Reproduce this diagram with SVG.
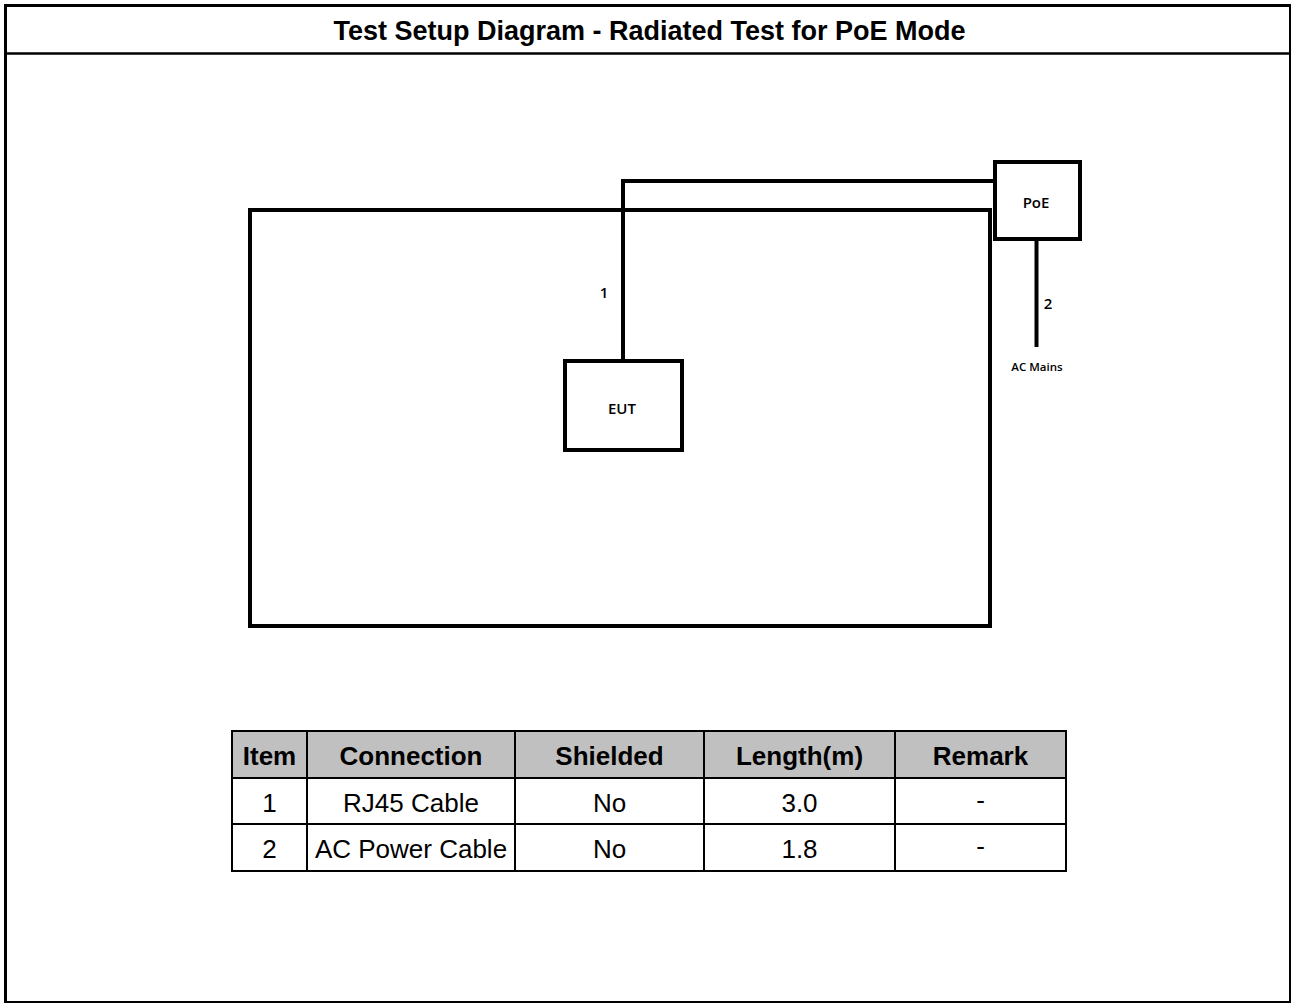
<svg xmlns="http://www.w3.org/2000/svg" width="1292" height="1004" viewBox="0 0 1292 1004">
<style>
.box{fill:#fff;stroke:#000;stroke-width:4}
.wire{fill:none;stroke:#000;stroke-width:4}
.lbl{font-family:"Open Sans","Noto Sans",sans-serif;font-size:15px;font-weight:600;fill:#000;text-anchor:middle}
.small{font-family:"Open Sans","Noto Sans",sans-serif;font-size:11.5px;font-weight:600;fill:#000;text-anchor:middle}
.title{font-family:"Liberation Sans",Arial,sans-serif;font-size:27px;font-weight:bold;text-anchor:middle}
.th{font-family:"Liberation Sans",Arial,sans-serif;font-size:26px;font-weight:bold;text-anchor:middle}
.td{font-family:"Liberation Sans",Arial,sans-serif;font-size:26px;text-anchor:middle}
.grid{stroke:#000;stroke-width:2;fill:none}
</style>
<rect width="1292" height="1004" fill="#fff"/>
<g id="frame">
<line x1="5.5" y1="4" x2="5.5" y2="1003" stroke="#000" stroke-width="3"/>
<line x1="4" y1="5.5" x2="1291" y2="5.5" stroke="#000" stroke-width="3"/>
<line x1="1290" y1="4" x2="1290" y2="1003" stroke="#000" stroke-width="2"/>
<line x1="4" y1="1002" x2="1291" y2="1002" stroke="#000" stroke-width="2"/>
<line x1="4" y1="53.5" x2="1291" y2="53.5" stroke="#000" stroke-width="2.5"/>
<text class="title" x="649.5" y="40">Test Setup Diagram - Radiated Test for PoE Mode</text>
</g>
<g id="table-area">
<rect x="250" y="210" width="740" height="416" fill="none" stroke="#000" stroke-width="4"/>
</g>
<g id="connectors">
<polyline class="wire" points="623,360 623,181 995,181"/>
<line class="wire" x1="1036.5" y1="238" x2="1036.5" y2="347"/>
<text class="lbl" x="604" y="298">1</text>
<text class="lbl" x="1048" y="309">2</text>
</g>
<g id="eut">
<rect class="box" x="565" y="361" width="117" height="89"/>
<text class="lbl" x="622" y="414">EUT</text>
</g>
<g id="poe">
<rect class="box" x="995" y="162" width="85" height="77"/>
<text class="lbl" x="1036" y="208">PoE</text>
</g>
<g id="ac-mains">
<text class="small" x="1037" y="371">AC Mains</text>
</g>
<g id="cable-table">
<rect x="232" y="731" width="834" height="47" fill="#c0c0c0"/>
<rect class="grid" x="232" y="731" width="834" height="140"/>
<line class="grid" x1="232" y1="778" x2="1066" y2="778"/>
<line class="grid" x1="232" y1="824" x2="1066" y2="824"/>
<line class="grid" x1="307" y1="731" x2="307" y2="871"/>
<line class="grid" x1="515" y1="731" x2="515" y2="871"/>
<line class="grid" x1="704" y1="731" x2="704" y2="871"/>
<line class="grid" x1="895" y1="731" x2="895" y2="871"/>
<text class="th" x="269.5" y="765">Item</text>
<text class="th" x="411" y="765">Connection</text>
<text class="th" x="609.5" y="765">Shielded</text>
<text class="th" x="799.5" y="765">Length(m)</text>
<text class="th" x="980.5" y="765">Remark</text>
<text class="td" x="269.5" y="812">1</text>
<text class="td" x="411" y="812">RJ45 Cable</text>
<text class="td" x="609.5" y="812">No</text>
<text class="td" x="799.5" y="812">3.0</text>
<text class="td" x="980.5" y="809">-</text>
<text class="td" x="269.5" y="858">2</text>
<text class="td" x="411" y="858">AC Power Cable</text>
<text class="td" x="609.5" y="858">No</text>
<text class="td" x="799.5" y="858">1.8</text>
<text class="td" x="980.5" y="855">-</text>
</g>
</svg>
